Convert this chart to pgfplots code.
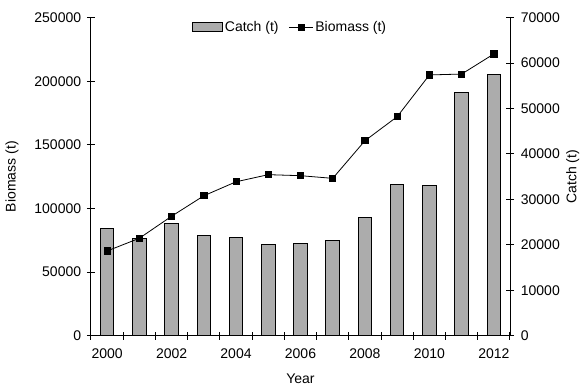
\documentclass[border=0pt]{standalone}
\usepackage{pgfplots}
\pgfplotsset{compat=1.18}
\usepackage{fontspec}
\setmainfont{Liberation Sans}

\pgfplotstableread{
x year catch biomass
0 2000 23500 66600
1 2001 21300 76600
2 2002 24600 93900
3 2003 22000 110000
4 2004 21700 121000
5 2005 20000 126600
6 2006 20250 125800
7 2007 20900 123700
8 2008 26100 153300
9 2009 33300 172200
10 2010 33000 205000
11 2011 53600 205700
12 2012 57400 221500
}\datatable

\begin{document}
\fontsize{14}{16}\selectfont
\begin{tikzpicture}
\pgfplotsset{
  every axis/.append style={
    scale only axis, width=419pt, height=318pt,
    xmin=-0.5, xmax=12.5, ymin=0,
    axis line style={line width=1pt, black},
    every tick/.style={line width=1pt, black},
    tick align=center,
    major tick length=8pt,
    /pgf/number format/assume math mode=true,
    /pgf/number format/fixed,
    /pgf/number format/1000 sep={},
    scaled y ticks=false,
    tick label style={font=\fontsize{14}{16}\selectfont},
    label style={font=\fontsize{14}{16}\selectfont},
  },
}
\path[use as bounding box] (-91pt,-52.3pt) rectangle (491pt,335.7pt);
% catch bars, right axis
\begin{axis}[
  axis x line=none,
  axis y line*=right,
  ymax=70000,
  ytick={0,10000,...,70000},
  yticklabel style={xshift=2pt},
  ylabel={Catch (t)},
  every axis y label/.style={at={(axis description cs:1.15,0.5)}, rotate=90, anchor=center},
  ybar, bar width=13.6pt,
]
\addplot[fill=gray!65, draw=black, line width=1pt] table[x=x, y=catch] {\datatable};
\end{axis}
% biomass line, left axis
\begin{axis}[
  axis x line*=bottom,
  axis y line*=left,
  ymax=250000,
  ytick={0,50000,...,250000},
  yticklabel style={xshift=-1pt},
  xtick={0,...,12},
  xticklabels={2000,,2002,,2004,,2006,,2008,,2010,,2012},
  major x tick style={draw=none},
  minor xtick={-0.5,0.5,...,12.5},
  minor tick length=8pt,
  xticklabel style={yshift=-4pt},
  ylabel={Biomass (t)},
  xlabel={Year},
  every axis y label/.style={at={(axis description cs:-0.1885,0.5)}, rotate=90, anchor=center},
  every axis x label/.style={at={(axis description cs:0.5,-0.135)}, anchor=center},
  legend style={at={(axis description cs:0.475,0.97)}, anchor=center, draw=none, fill=none,
    legend columns=-1, font=\fontsize{14}{16}\selectfont,
    /tikz/every even column/.append style={column sep=8pt}},
]
\addlegendimage{legend image code/.code={\draw[fill=gray!65, draw=black, line width=1pt] (0pt,-4.5pt) rectangle (30pt,4.5pt);}}
\addlegendentry{Catch (t)}
\addplot[black, line width=0.8pt, mark=square*, mark size=3.1pt, forget plot]
  table[x=x, y=biomass] {\datatable};
\addlegendimage{legend image code/.code={\draw[black, line width=0.8pt] (0pt,0pt) -- (24pt,0pt); \fill[black] (8.9pt,-3.1pt) rectangle (15.1pt,3.1pt);}}
\addlegendentry{Biomass (t)}
\end{axis}
\end{tikzpicture}
\end{document}
